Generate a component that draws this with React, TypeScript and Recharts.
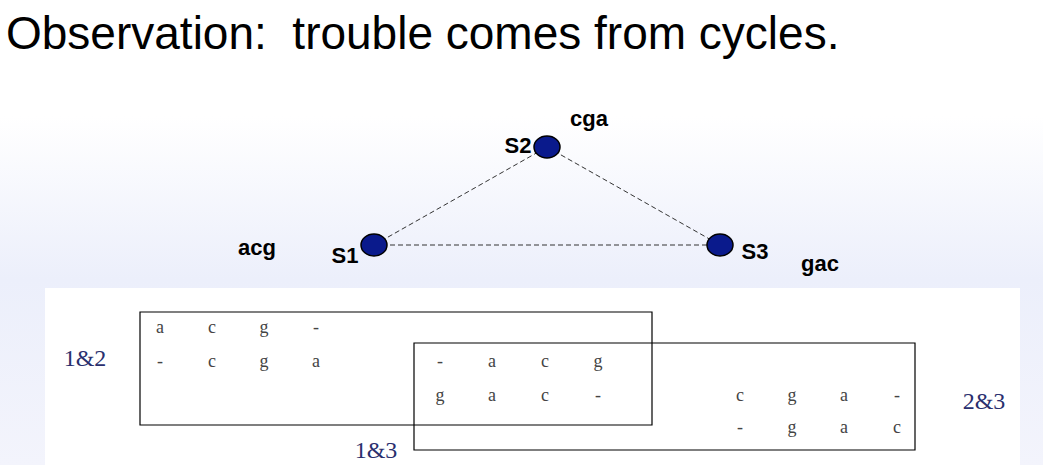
import React from 'react';
import { ScatterChart, Scatter, XAxis, YAxis, ReferenceLine, ReferenceArea } from 'recharts';

const nodes = [
  { name: 'S1', x: 374, y: 245 },
  { name: 'S2', x: 547, y: 147 },
  { name: 'S3', x: 720, y: 245 },
];
const edges = [
  ['S1', 'S2'],
  ['S2', 'S3'],
  ['S1', 'S3'],
];
const nodeLabels = [
  { text: 'S2', x: 518, y: 145 },
  { text: 'cga', x: 589, y: 118 },
  { text: 'acg', x: 257, y: 247 },
  { text: 'S1', x: 345, y: 255 },
  { text: 'S3', x: 755, y: 251 },
  { text: 'gac', x: 820, y: 263 },
];
const colsA = [160, 212, 264, 316];
const colsB = [440, 492, 545, 598];
const colsC = [740, 792, 844, 897];
const rows = [
  { cols: colsA, y: 327, chars: ['a', 'c', 'g', '-'] },
  { cols: colsA, y: 361, chars: ['-', 'c', 'g', 'a'] },
  { cols: colsB, y: 361, chars: ['-', 'a', 'c', 'g'] },
  { cols: colsB, y: 395, chars: ['g', 'a', 'c', '-'] },
  { cols: colsC, y: 395, chars: ['c', 'g', 'a', '-'] },
  { cols: colsC, y: 427, chars: ['-', 'g', 'a', 'c'] },
];
const pairLabels = [
  { text: '1&2', x: 85, y: 358 },
  { text: '1&3', x: 376, y: 450 },
  { text: '2&3', x: 984, y: 401 },
];
const boxes = [
  { x1: 140, x2: 652, y1: 312, y2: 425 },
  { x1: 414, x2: 915, y1: 343, y2: 450 },
];

const letters = rows.flatMap((r) => r.chars.map((c, i) => ({ text: c, x: r.cols[i], y: r.y })));
const pos = (n: string) => nodes.find((d) => d.name === n)!;

const textShape = (fill: string, fontSize: number, weight: string, family: string) =>
  (props: any) => (
    <text x={props.cx} y={props.cy} textAnchor="middle" dominantBaseline="central" fontSize={fontSize}
      fontWeight={weight} fontFamily={family} fill={fill}>{props.payload.text}</text>
  );

export default function App() {
  return (
    <div style={{ position: 'absolute', left: 0, top: 0, width: 1043, height: 465,
      background: 'linear-gradient(#ffffff 0%, #ffffff 25%, #eceffb 60%, #f3f4fc 100%)' }}>
      <div style={{ position: 'absolute', left: 45, top: 288, width: 975, height: 177, background: '#fff' }} />
      <div style={{ position: 'absolute', left: 6, top: 6, fontFamily: 'Liberation Sans, Arial, sans-serif',
        fontSize: 46, color: '#000', whiteSpace: 'nowrap' }}>Observation:&nbsp; trouble comes from cycles.</div>
      <div style={{ position: 'absolute', left: 0, top: 0 }}>
        <ScatterChart width={1043} height={465} margin={{ top: 0, right: 0, bottom: 0, left: 0 }}>
          <XAxis type="number" dataKey="x" domain={[0, 1043]} hide />
          <YAxis type="number" dataKey="y" domain={[0, 465]} reversed hide />
          {edges.map(([a, b]) => (
            <ReferenceLine key={a + b} segment={[{ x: pos(a).x, y: pos(a).y }, { x: pos(b).x, y: pos(b).y }]}
              stroke="#333" strokeDasharray="5 3" />
          ))}
          {boxes.map((b, i) => (
            <ReferenceArea key={i} x1={b.x1} x2={b.x2} y1={b.y1} y2={b.y2} fill="none" fillOpacity={0}
              stroke="#000" strokeWidth={1.2} />
          ))}
          <Scatter data={nodes} isAnimationActive={false}
            shape={(p: any) => <ellipse cx={p.cx} cy={p.cy} rx={13} ry={11} fill="#0a1a8c" stroke="#000" strokeWidth={1.5} />} />
          <Scatter data={nodeLabels} isAnimationActive={false}
            shape={textShape('#000', 22, 'bold', 'Liberation Sans, Arial, sans-serif')} />
          <Scatter data={letters} isAnimationActive={false}
            shape={textShape('#444', 18, 'normal', 'Liberation Serif, Times New Roman, serif')} />
          <Scatter data={pairLabels} isAnimationActive={false}
            shape={textShape('#2a2f6e', 24, 'normal', 'Liberation Serif, Times New Roman, serif')} />
        </ScatterChart>
      </div>
    </div>
  );
}
